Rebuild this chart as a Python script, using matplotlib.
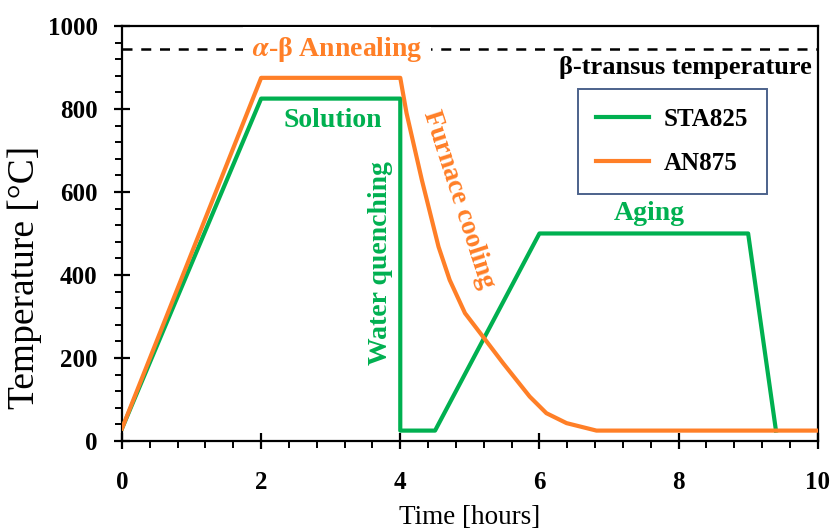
import matplotlib
matplotlib.use("Agg")
import matplotlib.pyplot as plt
from matplotlib.ticker import MultipleLocator

plt.rcParams['font.family'] = ['Liberation Serif', 'DejaVu Serif']
plt.rcParams['font.weight'] = 'bold'
plt.rcParams['mathtext.fontset'] = 'stix'

# Heat-treatment schedules
sta_time = [0, 2, 4, 4, 4.5, 6, 9, 9.4]
sta_temp = [30, 825, 825, 25, 25, 500, 500, 25]

an_time = [0, 2, 4, 4.09, 4.31, 4.55, 4.71, 4.93, 5.19, 5.48, 5.86, 6.10, 6.39, 6.82, 10]
an_temp = [30, 875, 875, 790, 629, 468, 388, 308, 251, 187, 107, 67, 43, 25, 25]

beta_transus = 945

GREEN = '#00B050'
ORANGE = '#FF7F27'

fig = plt.figure(figsize=(8.31, 5.29), dpi=100)
ax = fig.add_axes([0.1468, 0.1664, 0.8372, 0.7845])

ax.plot([0, 10], [beta_transus, beta_transus], color='black', lw=1.8,
        dashes=(4, 3.5), zorder=1)
ax.plot(sta_time, sta_temp, color=GREEN, lw=3, label='STA825', zorder=3)
ax.plot(an_time, an_temp, color=ORANGE, lw=3, label='AN875', zorder=4)

ax.set_xlim(0, 10)
ax.set_ylim(0, 1000)
ax.xaxis.set_major_locator(MultipleLocator(2))
ax.xaxis.set_minor_locator(MultipleLocator(0.4))
ax.yaxis.set_major_locator(MultipleLocator(200))
ax.yaxis.set_minor_locator(MultipleLocator(40))
ax.tick_params(which='major', direction='inout', length=11, width=1.6,
               labelsize=18)
ax.tick_params(axis='x', which='major', pad=16)
ax.tick_params(axis='y', which='major', pad=12)
ax.tick_params(which='minor', direction='out', length=5, width=1.4)
for s in ax.spines.values():
    s.set_linewidth(1.6)

ax.set_xlabel('Time [hours]', fontsize=19.5, fontweight='normal', labelpad=8)
ax.set_ylabel('Temperature [°C]', fontsize=27, fontweight='normal')
ax.yaxis.set_label_coords(-0.115, 0.395)

# Annotations
ax.text(3.09, 943, r'$\alpha$-β Annealing', color=ORANGE, fontsize=20,
        ha='center', va='center', zorder=5,
        bbox=dict(facecolor='white', edgecolor='none', pad=6))
ax.text(3.03, 773, 'Solution', color=GREEN, fontsize=20, ha='center', va='center')
ax.text(3.72, 429, 'Water quenching', color=GREEN, fontsize=20,
        ha='center', va='center', rotation=90)
ax.text(4.84, 581, 'Furnace cooling', color=ORANGE, fontsize=19.5,
        ha='center', va='center', rotation=-72)
ax.text(7.58, 549, 'Aging', color=GREEN, fontsize=20, ha='center', va='center')
ax.text(9.92, 899, 'β-transus temperature', color='black', fontsize=19,
        ha='right', va='center')

leg = ax.legend(loc='upper left', bbox_to_anchor=(0.655, 0.848), fontsize=18,
                fancybox=False, edgecolor='#1F3B6E', handlelength=2.1,
                borderpad=0.75, labelspacing=0.85, handletextpad=0.6,
                borderaxespad=0)
leg.get_frame().set_linewidth(1.4)

fig.savefig('out.png', dpi=100)
